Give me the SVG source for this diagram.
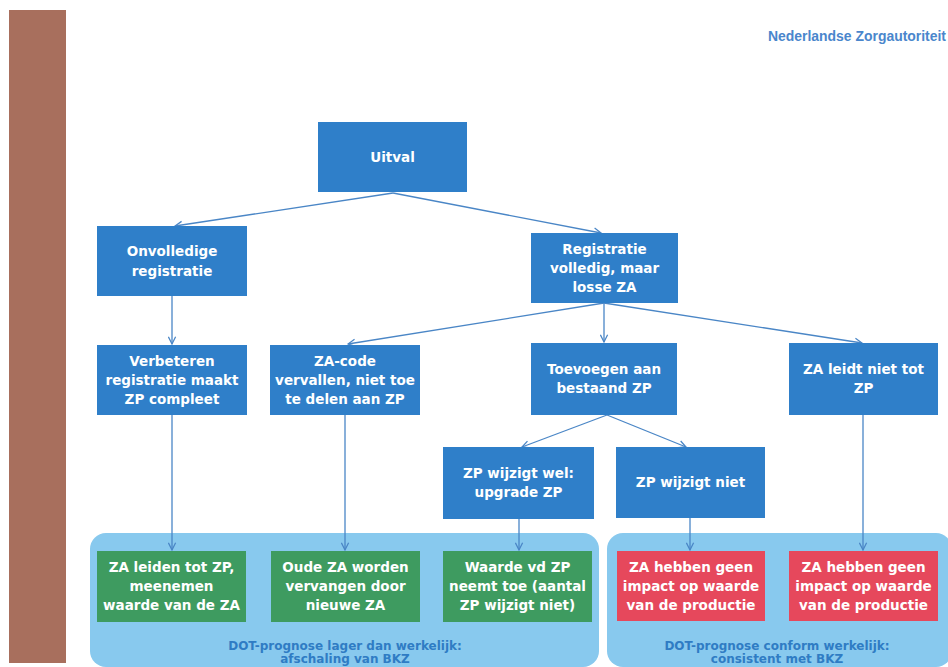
<svg xmlns="http://www.w3.org/2000/svg" width="948" height="667" viewBox="0 0 948 667">
<defs>
<marker id="ah" viewBox="0 0 10 10" refX="9" refY="5" markerWidth="9" markerHeight="9" markerUnits="userSpaceOnUse" orient="auto">
<path d="M1,1 L9,5 L1,9" fill="none" stroke="#4a86c6" stroke-width="1.4"/>
</marker>
<style>
.b{fill:#2f7fc9}
.g{fill:#3e9b60}
.r{fill:#e6485c}
.c{fill:#88c9ee}
.t{font-family:"DejaVu Sans",Verdana,sans-serif;font-weight:bold;font-size:13.5px;fill:#ffffff;text-anchor:middle}
.ct{font-family:"DejaVu Sans",Verdana,sans-serif;font-weight:bold;font-size:12px;fill:#2f7cc4;text-anchor:middle}
.e{fill:none;stroke:#4a86c6;stroke-width:1.3;marker-end:url(#ah)}
</style>
</defs>
<rect width="948" height="667" fill="#ffffff"/>
<rect x="9" y="10" width="57" height="653" fill="#a86f5d"/>
<text x="946" y="41" font-family="'Liberation Sans',Arial,sans-serif" font-size="14" font-weight="bold" fill="#4a86cc" text-anchor="end" textLength="178" lengthAdjust="spacingAndGlyphs">Nederlandse Zorgautoriteit</text>

<g id="container-left"><rect class="c" x="90" y="533" width="509" height="134" rx="16"/>
<text class="ct" x="345" y="650">DOT-prognose lager dan werkelijk:</text>
<text class="ct" x="345" y="663">afschaling van BKZ</text></g>
<g id="container-right"><rect class="c" x="607" y="533" width="345" height="134" rx="16"/>
<text class="ct" x="777" y="650">DOT-prognose conform werkelijk:</text>
<text class="ct" x="777" y="663">consistent met BKZ</text></g>

<g id="connectors">
<path class="e" d="M393,193 L175,226"/>
<path class="e" d="M393,193 L601,233"/>
<path class="e" d="M172,296 L172,344"/>
<path class="e" d="M604,303 L348,344"/>
<path class="e" d="M604,303 L604,342"/>
<path class="e" d="M604,303 L862,343"/>
<path class="e" d="M607,415 L522,447"/>
<path class="e" d="M607,415 L686,447"/>
<path class="e" d="M172,415 L172,550"/>
<path class="e" d="M345,415 L345,550"/>
<path class="e" d="M519,519 L519,550"/>
<path class="e" d="M690,518 L690,550"/>
<path class="e" d="M863,415 L863,550"/>
</g>

<g id="uitval"><rect class="b" x="318" y="122" width="149" height="70"/>
<text class="t" x="392.5" y="162">Uitval</text></g>

<g id="onvolledige"><rect class="b" x="97" y="226" width="150" height="70"/>
<text class="t" x="172" y="256">Onvolledige</text>
<text class="t" x="172" y="276">registratie</text></g>

<g id="registratie"><rect class="b" x="531" y="233" width="147" height="70"/>
<text class="t" x="604.5" y="254">Registratie</text>
<text class="t" x="604.5" y="273">volledig, maar</text>
<text class="t" x="604.5" y="292">losse ZA</text></g>

<g id="verbeteren"><rect class="b" x="97" y="345" width="150" height="70"/>
<text class="t" x="172" y="366">Verbeteren</text>
<text class="t" x="172" y="385">registratie maakt</text>
<text class="t" x="172" y="404">ZP compleet</text></g>

<g id="zacode"><rect class="b" x="270" y="345" width="150" height="70"/>
<text class="t" x="345" y="366">ZA-code</text>
<text class="t" x="345" y="385">vervallen, niet toe</text>
<text class="t" x="345" y="404">te delen aan ZP</text></g>

<g id="toevoegen"><rect class="b" x="531" y="343" width="146" height="72"/>
<text class="t" x="604" y="374">Toevoegen aan</text>
<text class="t" x="604" y="393">bestaand ZP</text></g>

<g id="zaleidt"><rect class="b" x="789" y="343" width="149" height="72"/>
<text class="t" x="863.5" y="374">ZA leidt niet tot</text>
<text class="t" x="863.5" y="393">ZP</text></g>

<g id="zpwel"><rect class="b" x="443" y="447" width="151" height="72"/>
<text class="t" x="518.5" y="478">ZP wijzigt wel:</text>
<text class="t" x="518.5" y="497">upgrade ZP</text></g>

<g id="zpniet"><rect class="b" x="616" y="447" width="149" height="71"/>
<text class="t" x="690.5" y="487">ZP wijzigt niet</text></g>

<g id="zaleiden"><rect class="g" x="97" y="551" width="149" height="71"/>
<text class="t" x="171.5" y="572">ZA leiden tot ZP,</text>
<text class="t" x="171.5" y="591">meenemen</text>
<text class="t" x="171.5" y="610">waarde van de ZA</text></g>

<g id="oudeza"><rect class="g" x="271" y="551" width="149" height="71"/>
<text class="t" x="345.5" y="572">Oude ZA worden</text>
<text class="t" x="345.5" y="591">vervangen door</text>
<text class="t" x="345.5" y="610">nieuwe ZA</text></g>

<g id="waarde"><rect class="g" x="443" y="551" width="149" height="71"/>
<text class="t" x="517.5" y="572">Waarde vd ZP</text>
<text class="t" x="517.5" y="591">neemt toe (aantal</text>
<text class="t" x="517.5" y="610">ZP wijzigt niet)</text></g>

<g id="geenimpact1"><rect class="r" x="617" y="551" width="148" height="70"/>
<text class="t" x="691" y="572">ZA hebben geen</text>
<text class="t" x="691" y="591">impact op waarde</text>
<text class="t" x="691" y="610">van de productie</text></g>

<g id="geenimpact2"><rect class="r" x="789" y="551" width="149" height="70"/>
<text class="t" x="863.5" y="572">ZA hebben geen</text>
<text class="t" x="863.5" y="591">impact op waarde</text>
<text class="t" x="863.5" y="610">van de productie</text></g>
</svg>
